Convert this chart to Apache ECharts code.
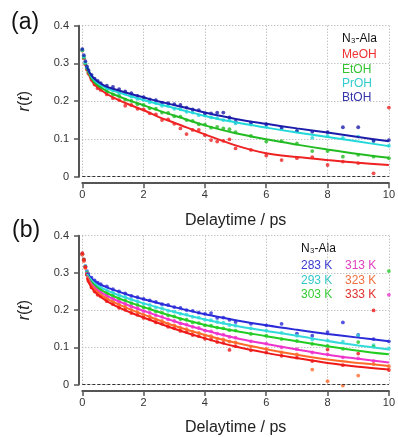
<!DOCTYPE html>
<html><head><meta charset="utf-8">
<script src="https://cdn.jsdelivr.net/npm/echarts@6/dist/echarts.min.js"></script>
<style>html,body{margin:0;padding:0;background:#fff}#c{width:398px;height:437px}</style>
</head><body><div id="c"></div>
<script>
// ---------- data ----------
const times = [0,0.05,0.1,0.15,0.2,0.3,0.4,0.5,0.6,0.8,
  1.0,1.2,1.4,1.6,1.8,2.0,2.2,2.4,2.6,2.8,
  3.0,3.2,3.4,3.6,3.8,4.0,4.2,4.4,4.6,4.8,
  5.0,5.5,6.0,6.5,7.0,7.5,8.0,8.5,9.0,9.5,10];

// panel (a) solvents
const solventNames = ['MeOH','EtOH','PrOH','BtOH'];
const meohPts = [0.334,0.314,0.297,0.284,0.273,0.257,0.244,0.234,0.230,0.218,
  0.208,0.203,0.188,0.190,0.180,0.178,0.168,0.165,0.150,0.152,
  0.140,0.128,0.113,0.124,0.124,0.110,0.097,0.093,0.095,0.099,
  0.075,0.071,0.056,0.044,0.049,0.052,0.031,0.040,0.036,0.009,0.183];
const etohPts = [0.335,0.316,0.300,0.287,0.277,0.262,0.249,0.240,0.238,0.225,
  0.218,0.214,0.204,0.201,0.192,0.190,0.181,0.180,0.170,0.169,
  0.160,0.159,0.150,0.148,0.139,0.138,0.130,0.132,0.128,0.126,
  0.118,0.108,0.093,0.094,0.088,0.068,0.068,0.053,0.058,0.053,0.049];
const prohPts = [0.336,0.318,0.302,0.290,0.280,0.266,0.256,0.247,0.244,0.232,
  0.229,0.222,0.220,0.212,0.206,0.204,0.197,0.195,0.188,0.188,
  0.180,0.179,0.172,0.170,0.163,0.162,0.157,0.155,0.150,0.149,
  0.141,0.138,0.132,0.126,0.120,0.103,0.108,0.103,0.106,0.095,0.082];
const btohPts = [0.338,0.322,0.306,0.292,0.282,0.270,0.260,0.254,0.248,0.241,
  0.238,0.232,0.226,0.221,0.214,0.211,0.205,0.203,0.196,0.195,
  0.192,0.190,0.183,0.178,0.176,0.168,0.168,0.170,0.170,0.157,
  0.146,0.143,0.139,0.130,0.121,0.119,0.118,0.131,0.131,0.095,0.097];

const fitTimesA = [0.15,0.3,0.5,0.75,1,1.5,2,2.5,3,4,5,6,7,8,9,10];
const meohFit = [0.286,0.255,0.236,0.222,0.210,0.192,0.176,0.158,0.143,0.112,0.083,0.062,0.052,0.044,0.037,0.031];
const etohFit = [0.288,0.260,0.242,0.229,0.219,0.203,0.189,0.175,0.162,0.136,0.115,0.099,0.085,0.072,0.060,0.050];
const prohFit = [0.290,0.265,0.248,0.236,0.228,0.215,0.203,0.192,0.182,0.161,0.144,0.130,0.117,0.105,0.093,0.081];
const btohFit = [0.290,0.268,0.252,0.240,0.233,0.221,0.210,0.199,0.190,0.170,0.153,0.140,0.128,0.117,0.105,0.094];

// panel (b) temperatures
const tempNames = ['283 K','293 K','303 K','313 K','323 K','333 K'];
const k283Pts = [0.350,0.335,0.318,0.305,0.297,0.287,0.280,0.274,0.270,0.264,
  0.256,0.250,0.245,0.238,0.235,0.230,0.226,0.222,0.216,0.214,
  0.208,0.206,0.200,0.198,0.193,0.190,0.192,0.179,0.180,0.174,
  0.168,0.163,0.159,0.163,0.137,0.131,0.141,0.167,0.133,0.122,0.116];
const k293Pts = [0.351,0.336,0.318,0.302,0.292,0.281,0.272,0.267,0.260,0.254,
  0.247,0.240,0.236,0.228,0.224,0.217,0.214,0.207,0.205,0.198,
  0.196,0.190,0.188,0.182,0.180,0.174,0.173,0.168,0.166,0.160,
  0.158,0.151,0.145,0.139,0.131,0.121,0.118,0.115,0.132,0.106,0.097];
const k303Pts = [0.350,0.334,0.316,0.300,0.289,0.276,0.268,0.259,0.256,0.245,
  0.239,0.230,0.226,0.218,0.214,0.207,0.204,0.196,0.193,0.186,
  0.183,0.176,0.174,0.167,0.165,0.159,0.158,0.153,0.151,0.146,
  0.145,0.136,0.131,0.122,0.117,0.109,0.104,0.096,0.114,0.102,0.305];
const k313Pts = [0.350,0.333,0.315,0.298,0.286,0.271,0.262,0.253,0.250,0.238,
  0.231,0.222,0.217,0.209,0.205,0.197,0.193,0.186,0.182,0.175,
  0.171,0.164,0.161,0.155,0.152,0.145,0.143,0.137,0.134,0.128,
  0.126,0.116,0.110,0.100,0.095,0.086,0.081,0.073,0.070,0.063,0.241];
const k323Pts = [0.349,0.332,0.313,0.296,0.282,0.266,0.257,0.247,0.243,0.231,
  0.223,0.214,0.209,0.200,0.195,0.187,0.183,0.175,0.171,0.163,
  0.159,0.152,0.149,0.142,0.139,0.132,0.130,0.123,0.121,0.115,
  0.113,0.102,0.096,0.086,0.081,0.040,0.009,-0.003,0.024,0.055,0.049];
const k333Pts = [0.353,0.336,0.316,0.295,0.278,0.261,0.250,0.241,0.237,0.224,
  0.216,0.206,0.201,0.192,0.187,0.179,0.175,0.167,0.163,0.155,
  0.151,0.144,0.141,0.133,0.130,0.123,0.121,0.114,0.112,0.093,
  0.103,0.092,0.086,0.077,0.072,0.063,0.094,0.052,0.083,0.199,0.039];

const fitTimesB = [0.15,0.3,0.5,0.75,1,1.5,2,3,4,5,6,7,8,9,10];
const k283Fit = [0.300,0.285,0.272,0.263,0.255,0.241,0.229,0.208,0.189,0.173,0.159,0.147,0.136,0.126,0.116];
const k293Fit = [0.297,0.280,0.266,0.255,0.246,0.231,0.218,0.195,0.175,0.158,0.144,0.131,0.117,0.105,0.094];
const k303Fit = [0.294,0.275,0.260,0.248,0.238,0.222,0.208,0.182,0.160,0.144,0.130,0.116,0.103,0.091,0.081];
const k313Fit = [0.292,0.270,0.254,0.241,0.230,0.213,0.198,0.170,0.146,0.125,0.109,0.094,0.080,0.069,0.059];
const k323Fit = [0.289,0.265,0.248,0.234,0.222,0.204,0.188,0.158,0.133,0.112,0.095,0.080,0.067,0.058,0.050];
const k333Fit = [0.286,0.260,0.242,0.227,0.215,0.196,0.180,0.150,0.124,0.102,0.085,0.071,0.058,0.048,0.040];

const xTicks = [0,2,4,6,8,10];
const yTicks = [0,0.1,0.2,0.3,0.4];
const xTitle = 'Delaytime / ps';
const legendTitle = 'N₃-Ala';
const panelLabels = ['(a)','(b)'];

// ---------- styling ----------
const FONT = '"Liberation Sans", Arial, sans-serif';
const colA = ['#ee2222','#22bb22','#22d8d8','#1c1caa'];
const colAtext = ['#ee3333','#33c433','#33cccc','#3333aa'];
const colB = ['#2a2ad8','#33dada','#22cc22','#ee33cc','#ff6a2a','#ee1818'];
const colBtext = ['#3a3ad0','#33c8c8','#33cc33','#e040c0','#f07040','#e03030'];

const zip = (t, v) => t.map((x, i) => [x, v[i]]);

function makeAxes(gi) {
  const x = {
    type: 'value', gridIndex: gi, min: xTicks[0], max: xTicks[xTicks.length-1], interval: 2,
    offset: 6.5,
    axisLine: {show: true, onZero: false, lineStyle: {color: '#555', width: 2}},
    axisTick: {show: true, inside: false, length: 5, lineStyle: {color: '#555', width: 1.5}},
    axisLabel: {color: '#333', fontSize: 11, fontFamily: FONT, margin: 6},
    splitLine: {show: true, lineStyle: {color: '#aaa', type: [1, 2], width: 1}},
    name: xTitle, nameLocation: 'middle', nameGap: 29,
    nameTextStyle: {fontSize: 16, color: '#222', fontFamily: FONT}
  };
  const y = {
    type: 'value', gridIndex: gi, min: yTicks[0], max: yTicks[yTicks.length-1], interval: 0.1,
    offset: 3.3,
    axisLine: {show: true, onZero: false, lineStyle: {color: '#555', width: 2}},
    axisTick: {show: true, inside: false, length: 5, lineStyle: {color: '#555', width: 1.5}},
    axisLabel: {color: '#333', fontSize: 11, fontFamily: FONT, margin: 10},
    splitLine: {show: true, lineStyle: {color: '#aaa', type: [1, 2], width: 1}},
    name: '{i|r}{n|(}{i|t}{n|)}', nameLocation: 'middle', nameGap: 46, nameRotate: 90,
    nameTextStyle: {fontSize: 16, color: '#222', fontFamily: FONT,
      rich: {i: {fontStyle: 'italic', fontSize: 16, color: '#222', fontFamily: FONT},
             n: {fontSize: 16, color: '#222', fontFamily: FONT}}}
  };
  return [x, y];
}

const [xa, ya] = makeAxes(0);
const [xb, yb] = makeAxes(1);

const series = [];
function addPanel(gi, names, pts, fitT, fits, cols) {
  names.forEach((n, i) => {
    const s = {
      name: n, type: 'scatter', xAxisIndex: gi, yAxisIndex: gi,
      data: zip(times, pts[i]), symbol: 'circle', symbolSize: 3.8, clip: false,
      itemStyle: {color: cols[i]}, silent: true, z: 3
    };
    if (i === 0) {
      s.markLine = {silent: true, symbol: 'none', label: {show: false},
        lineStyle: {type: [3, 2], color: '#333', width: 1}, data: [{yAxis: 0}], animation: false};
    }
    series.push(s);
  });
  names.forEach((n, i) => {
    series.push({
      name: n + ' fit', type: 'line', xAxisIndex: gi, yAxisIndex: gi,
      data: zip(fitT, fits[i]), showSymbol: false, smooth: 0.35,
      lineStyle: {color: cols[i], width: 2}, silent: true, z: 4
    });
  });
}
addPanel(0, solventNames, [meohPts, etohPts, prohPts, btohPts], fitTimesA,
  [meohFit, etohFit, prohFit, btohFit], colA);
addPanel(1, tempNames, [k283Pts, k293Pts, k303Pts, k313Pts, k323Pts, k333Pts], fitTimesB,
  [k283Fit, k293Fit, k303Fit, k313Fit, k323Fit, k333Fit], colB);

// legend texts as graphics
const graphic = [];
graphic.push({type: 'text', left: 11, top: 11, style: {text: panelLabels[0], font: '23px ' + FONT, fill: '#111'}});
graphic.push({type: 'text', left: 12, top: 219, style: {text: panelLabels[1], font: '23px ' + FONT, fill: '#111'}});
graphic.push({type: 'text', left: 342, top: 33, style: {text: legendTitle, font: '12px ' + FONT, fill: '#111'}});
solventNames.forEach((n, i) => {
  graphic.push({type: 'text', left: 342, top: 49 + i * 14.2, style: {text: n, font: '12px ' + FONT, fill: colAtext[i]}});
});
graphic.push({type: 'text', left: 301, top: 243, style: {text: legendTitle, font: '12px ' + FONT, fill: '#111'}});
tempNames.forEach((n, i) => {
  const col = Math.floor(i / 3), row = i % 3;
  graphic.push({type: 'text', left: 301 + col * 44, top: 260 + row * 14.2,
    style: {text: n, font: '12px ' + FONT, fill: colBtext[i]}});
});

const chart = echarts.init(document.getElementById('c'), null, {renderer: 'canvas'});
chart.setOption({
  animation: false,
  backgroundColor: '#fff',
  grid: [
    {left: 82.3, right: 5.3, top: 25.7, height: 151},
    {left: 82.3, right: 5.3, top: 235.7, height: 151}
  ],
  xAxis: [xa, xb],
  yAxis: [ya, yb],
  series: series,
  graphic: graphic
});
</script></body></html>
